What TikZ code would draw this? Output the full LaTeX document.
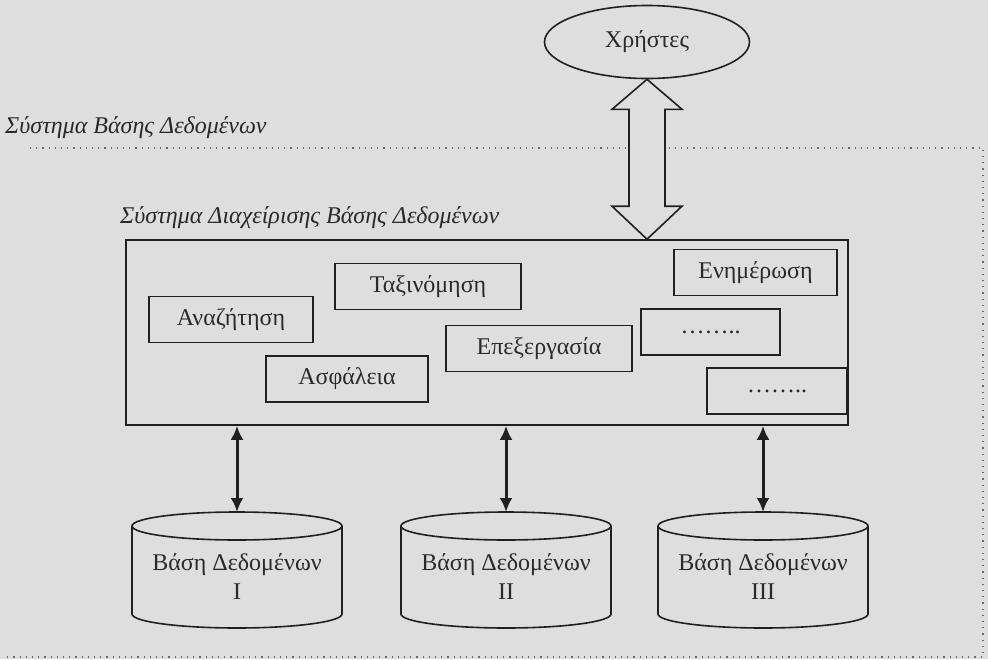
\documentclass[tikz,border=0pt]{standalone}
\usepackage{fontspec}
\setmainfont{Liberation Serif}
\usetikzlibrary{shapes.geometric,arrows.meta,calc}
\definecolor{bgcol}{HTML}{DEDEDE}
\definecolor{inkcol}{HTML}{202020}
\definecolor{txtcol}{HTML}{2A2A2A}
\definecolor{dotcol}{HTML}{6A6A6A}
\tikzset{
  func/.style={draw=inkcol, line width=1.6pt, minimum height=46pt, inner sep=0pt,
    text=txtcol, font=\fontsize{24}{28}\selectfont},
  dbline/.style={draw=inkcol, line width=1.6pt},
  dbtext/.style={align=center, inner sep=0pt, text=txtcol,
    font=\fontsize{24}{29}\selectfont},
  link/.style={{Latex[length=14pt,width=13pt]}-{Latex[length=14pt,width=13pt]},
    line width=3pt, draw=inkcol},
  hollow/.style={draw=inkcol, line width=1.6pt, fill=bgcol},
  sysline/.style={draw=dotcol, line width=1.2pt, dash pattern=on 1.2pt off 5pt},
  caption/.style={anchor=west, inner sep=0pt, text=txtcol,
    font=\fontsize{24}{28}\itshape\selectfont}
}
\begin{document}
\begin{tikzpicture}[x=1pt,y=-1pt]
  \fill[bgcol] (0,0) rectangle (988,659);
  \useasboundingbox (0,0) rectangle (988,659);
  % Database system frame
  \draw[sysline] (30,148) -- (983,148) -- (983,657) -- (5,657);
  \node[caption] (dbslabel) at (5,128) {Σύστημα Βάσης Δεδομένων};
  % Users
  \node[ellipse, draw=inkcol, line width=1.6pt, minimum width=205pt, minimum height=73pt,
    text=txtcol, font=\fontsize{24}{28}\selectfont] (users) at (647,42) {Χρήστες};
  % DBMS
  \node[caption] (dbmslabel) at (120,218) {Σύστημα Διαχείρισης Βάσης Δεδομένων};
  \node[draw=inkcol, line width=1.6pt, minimum width=722pt, minimum height=185pt] (dbms) at (487,332.5) {};
  \node[func, minimum width=164pt] (search) at (231,319.5) {Αναζήτηση};
  \node[func, minimum width=186pt] (sort) at (428,286.5) {Ταξινόμηση};
  \node[func, minimum width=162pt] (security) at (347,379) {Ασφάλεια};
  \node[func, minimum width=186pt] (process) at (539,348.5) {Επεξεργασία};
  \node[func, minimum width=163pt] (update) at (755.5,272.5) {Ενημέρωση};
  \node[func, minimum width=139pt] (more1) at (710.5,332) {……..};
  \node[func, minimum width=140pt] (more2) at (777,391) {……..};
  % Hollow double arrow
  \coordinate (utop) at (users.south);
  \coordinate (ubot) at (users.south |- dbms.north);
  \draw[hollow] (utop) -- ++(35,30) -- ++(-17,0) -- ($(ubot)+(18,-33)$) -- ++(17,0)
    -- (ubot) -- ++(-35,-33) -- ++(17,0) -- ($(utop)+(-18,30)$) -- ++(-17,0) -- cycle;
  % Databases
  \foreach \x/\n/\r in {237/1/I,506/2/II,763/3/III} {
    \coordinate (db\n top) at (\x,512);
    \draw[dbline] (\x-105,526) -- (\x-105,614)
      arc[start angle=180, end angle=0, x radius=105, y radius=14] -- (\x+105,526);
    \draw[dbline] (\x,526) ellipse[x radius=105, y radius=14];
    \node[dbtext] (db\n) at (\x,577) {Βάση Δεδομένων\\\r};
    \draw[link] (db\n top |- dbms.south) -- (db\n top);
  }
\end{tikzpicture}
\end{document}
